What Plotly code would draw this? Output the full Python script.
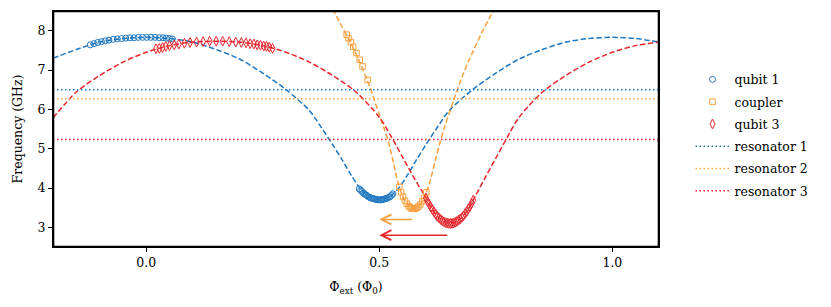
import plotly.graph_objects as go

# ---------------- data ----------------
X_RANGE = [-0.2, 1.1]
Y_RANGE = [2.5, 8.5]
x_ticks = [0.0, 0.5, 1.0]
x_ticklabels = ["0.0", "0.5", "1.0"]
y_ticks = [3, 4, 5, 6, 7, 8]

# dashed model curves
q1_curve_phi = [-0.20, -0.15, -0.10, -0.05, 0.00, 0.05, 0.10, 0.15, 0.20, 0.25, 0.30, 0.35, 0.375,
                0.40, 0.42, 0.44, 0.46, 0.48, 0.50, 0.52, 0.54, 0.56, 0.58, 0.60, 0.625, 0.65, 0.70,
                0.75, 0.80, 0.85, 0.90, 0.95, 1.00, 1.05, 1.10]
q1_curve_f = [7.30, 7.52, 7.71, 7.80, 7.83, 7.80, 7.71, 7.52, 7.28, 6.92, 6.50, 5.97, 5.55,
              5.10, 4.72, 4.32, 3.97, 3.76, 3.70, 3.76, 3.97, 4.32, 4.72, 5.10, 5.55, 5.97, 6.50,
              6.92, 7.28, 7.52, 7.71, 7.80, 7.83, 7.80, 7.71]

cp_curve_phi = [0.40, 0.42, 0.44, 0.46, 0.48, 0.50, 0.51, 0.52, 0.53, 0.54, 0.55, 0.56, 0.574,
                0.59, 0.60, 0.61, 0.62, 0.63, 0.64, 0.66, 0.68, 0.70, 0.72, 0.74, 0.76]
cp_curve_f = [8.55, 8.10, 7.66, 7.15, 6.56, 5.86, 5.52, 5.16, 4.66, 4.14, 3.80, 3.58, 3.47,
              3.62, 3.86, 4.22, 4.70, 5.15, 5.55, 6.25, 6.90, 7.45, 7.95, 8.40, 8.80]

q3_curve_phi = [-0.20, -0.15, -0.10, -0.05, 0.00, 0.05, 0.10, 0.15, 0.20, 0.25, 0.30, 0.35, 0.40,
                0.45, 0.50, 0.525, 0.55, 0.575, 0.60, 0.6125, 0.625, 0.6375, 0.652, 0.665, 0.677,
                0.69, 0.70, 0.725, 0.75, 0.775, 0.80, 0.85, 0.90, 0.95, 1.00, 1.05, 1.10]
q3_curve_f = [5.78, 6.44, 6.86, 7.20, 7.45, 7.62, 7.71, 7.73, 7.71, 7.62, 7.45, 7.20, 6.86,
              6.44, 5.80, 5.32, 4.78, 4.25, 3.75, 3.47, 3.28, 3.15, 3.10, 3.14, 3.25,
              3.45, 3.66, 4.22, 4.76, 5.30, 5.80, 6.44, 6.86, 7.20, 7.45, 7.62, 7.71]

# measured points
q1_phi = [-0.120, -0.112, -0.104, -0.096, -0.088, -0.080, -0.071, -0.062, -0.053, -0.044, -0.035,
          -0.026, -0.017, -0.008, 0.001, 0.010, 0.019, 0.028, 0.036, 0.043, 0.050, 0.056,
          0.457, 0.460, 0.463, 0.466, 0.469, 0.472, 0.475, 0.478, 0.481, 0.484, 0.487, 0.490,
          0.493, 0.496, 0.499, 0.502, 0.505, 0.508, 0.511, 0.514, 0.517, 0.520, 0.523, 0.526, 0.529]
q1_f = [7.64, 7.67, 7.70, 7.72, 7.74, 7.76, 7.78, 7.79, 7.80, 7.81, 7.82,
        7.82, 7.83, 7.83, 7.83, 7.83, 7.83, 7.82, 7.82, 7.81, 7.80, 7.79,
        3.98, 3.94, 3.91, 3.87, 3.84, 3.82, 3.79, 3.77, 3.75, 3.74, 3.73, 3.72,
        3.71, 3.70, 3.70, 3.70, 3.70, 3.71, 3.72, 3.73, 3.74, 3.76, 3.78, 3.81, 3.85]

cp_phi = [0.430, 0.434, 0.439, 0.444, 0.451, 0.458, 0.464, 0.475,
          0.543, 0.547, 0.551, 0.555, 0.559, 0.563, 0.566, 0.569, 0.572, 0.575, 0.578,
          0.581, 0.584, 0.588, 0.592, 0.596, 0.601]
cp_f = [7.90, 7.81, 7.71, 7.59, 7.43, 7.26, 7.09, 6.75,
        4.03, 3.89, 3.78, 3.68, 3.60, 3.54, 3.51, 3.48, 3.47, 3.47, 3.48,
        3.50, 3.53, 3.58, 3.66, 3.75, 3.89]

q3_phi = [0.021, 0.028, 0.035, 0.042, 0.050, 0.060, 0.070, 0.082, 0.094, 0.108, 0.122, 0.136,
          0.150, 0.164, 0.178, 0.192, 0.204, 0.214, 0.223, 0.231, 0.238, 0.245, 0.252, 0.258,
          0.264, 0.271,
          0.600, 0.6035, 0.607, 0.6105, 0.614, 0.6175, 0.621, 0.6245, 0.628, 0.6315, 0.635,
          0.6385, 0.642, 0.6455, 0.649, 0.6525, 0.656, 0.6595, 0.663, 0.6665, 0.670, 0.6735,
          0.677, 0.6805, 0.684, 0.6875, 0.691, 0.6945, 0.698, 0.7015]
q3_f = [7.54, 7.55, 7.57, 7.60, 7.62, 7.64, 7.66, 7.68, 7.70, 7.71, 7.72, 7.73,
        7.73, 7.73, 7.72, 7.71, 7.70, 7.69, 7.67, 7.66, 7.64, 7.63, 7.61, 7.60,
        7.58, 7.55,
        3.75, 3.66, 3.59, 3.51, 3.45, 3.39, 3.33, 3.28, 3.24, 3.20, 3.17,
        3.14, 3.12, 3.11, 3.10, 3.10, 3.10, 3.11, 3.13, 3.15, 3.18, 3.21,
        3.25, 3.29, 3.35, 3.40, 3.47, 3.53, 3.61, 3.69]

resonator_names = ["resonator 1", "resonator 2", "resonator 3"]
resonator_f = [6.50, 6.27, 5.23]

# arrows: (start phi, end phi, frequency)
arrow_start_phi = [0.574, 0.649]
arrow_end_phi = [0.5, 0.5]
arrow_f = [3.20, 2.80]

# ---------------- styling / geometry ----------------
BLUE = "#1f78c1"
ORANGE = "#f9a03f"
RED = "#e6272c"
FONT = "DejaVu Serif"
FS = 12.5
DASH = "5.5px,2.5px"
DOT = "1.5px,2.5px"

FIG_W, FIG_H = 823, 299            # page adds an 8px body margin
M_L, M_R, M_T, M_B = 45, 172, 3, 60
PLOT_W = FIG_W - M_L - M_R
PLOT_H = FIG_H - M_T - M_B
TICK_LEN = 4
x_per_px = (X_RANGE[1] - X_RANGE[0]) / PLOT_W
y_per_px = (Y_RANGE[1] - Y_RANGE[0]) / PLOT_H

fig = go.Figure()

for phi, f, c in [(q1_curve_phi, q1_curve_f, BLUE), (cp_curve_phi, cp_curve_f, ORANGE),
                  (q3_curve_phi, q3_curve_f, RED)]:
    fig.add_trace(go.Scatter(x=phi, y=f, mode="lines", showlegend=False, hoverinfo="skip",
                             line=dict(color=c, width=1.5, dash=DASH, shape="spline", smoothing=0.8)))

fig.add_trace(go.Scatter(x=q1_phi, y=q1_f, mode="markers", name="qubit 1", legendgroup="a",
                         marker=dict(symbol="circle-open", size=6, color=BLUE, line=dict(width=1, color=BLUE))))
fig.add_trace(go.Scatter(x=cp_phi, y=cp_f, mode="markers", name="coupler", legendgroup="b",
                         marker=dict(symbol="square-open", size=5.5, color=ORANGE, line=dict(width=1, color=ORANGE))))
fig.add_trace(go.Scatter(x=q3_phi, y=q3_f, mode="markers", name="qubit 3", legendgroup="c",
                         marker=dict(symbol="diamond-tall-open", size=7, color=RED, line=dict(width=1, color=RED))))

for name, f, c, g in zip(resonator_names, resonator_f, [BLUE, ORANGE, RED], ["d", "e", "f"]):
    fig.add_trace(go.Scatter(x=X_RANGE, y=[f, f], mode="lines", name=name, legendgroup=g,
                             line=dict(color=c, width=1.5, dash=DOT)))

for x0, x1, yv, c in zip(arrow_start_phi, arrow_end_phi, arrow_f, [ORANGE, RED]):
    fig.add_annotation(x=x1, y=yv, ax=x0, ay=yv, xref="x", yref="y", axref="x", ayref="y",
                       showarrow=True, arrowhead=5, arrowsize=1.3, arrowwidth=1.5,
                       arrowcolor=c, text="", standoff=0, startstandoff=0)

# frame around the axes (drawn as a trace; the outer half is clipped by the plot area)
fig.add_trace(go.Scatter(
    x=[X_RANGE[0], X_RANGE[1], X_RANGE[1], X_RANGE[0], X_RANGE[0]],
    y=[Y_RANGE[0], Y_RANGE[0], Y_RANGE[1], Y_RANGE[1], Y_RANGE[0]],
    mode="lines", line=dict(color="black", width=2.6), showlegend=False, hoverinfo="skip"))

# outside tick marks on the bottom and left axes
fig.add_trace(go.Scatter(
    x=x_ticks, y=[Y_RANGE[0] - TICK_LEN / 2 * y_per_px] * len(x_ticks),
    mode="markers", cliponaxis=False, showlegend=False, hoverinfo="skip",
    marker=dict(symbol="line-ns", size=TICK_LEN, color="black", line=dict(width=1.1, color="black"))))
fig.add_trace(go.Scatter(
    x=[X_RANGE[0] - TICK_LEN / 2 * x_per_px] * len(y_ticks), y=y_ticks,
    mode="markers", cliponaxis=False, showlegend=False, hoverinfo="skip",
    marker=dict(symbol="line-ew", size=TICK_LEN, color="black", line=dict(width=1.1, color="black"))))

fig.update_xaxes(range=X_RANGE, tickvals=x_ticks, ticktext=x_ticklabels,
                 showline=True, linecolor="black", linewidth=1.3, mirror=True,
                 ticks="outside", ticklen=TICK_LEN, tickwidth=1.1, tickcolor="black",
                 showgrid=False, zeroline=False,
                 tickfont=dict(family=FONT, size=FS, color="black"),
                 title=dict(text="Φ<sub>ext</sub> (Φ<sub>0</sub>)", standoff=13,
                            font=dict(family=FONT, size=FS, color="black")))
fig.update_yaxes(range=Y_RANGE, tickvals=y_ticks,
                 showline=True, linecolor="black", linewidth=1.3, mirror=True,
                 ticks="outside", ticklen=TICK_LEN, tickwidth=1.1, tickcolor="black",
                 showgrid=False, zeroline=False,
                 tickfont=dict(family=FONT, size=FS, color="black"),
                 title=dict(text="Frequency (GHz)", standoff=12,
                            font=dict(family=FONT, size=FS, color="black")))

fig.update_layout(
    width=FIG_W, height=FIG_H,
    margin=dict(l=M_L, r=M_R, t=M_T, b=M_B, autoexpand=False),
    paper_bgcolor="white", plot_bgcolor="white",
    font=dict(family=FONT, size=FS, color="black"),
    legend=dict(x=1.052, y=0.772, xanchor="left", yanchor="top", traceorder="grouped",
                tracegroupgap=3, itemwidth=34, bgcolor="rgba(0,0,0,0)",
                font=dict(family=FONT, size=FS)),
    showlegend=True,
)

fig.write_html("out.html")
